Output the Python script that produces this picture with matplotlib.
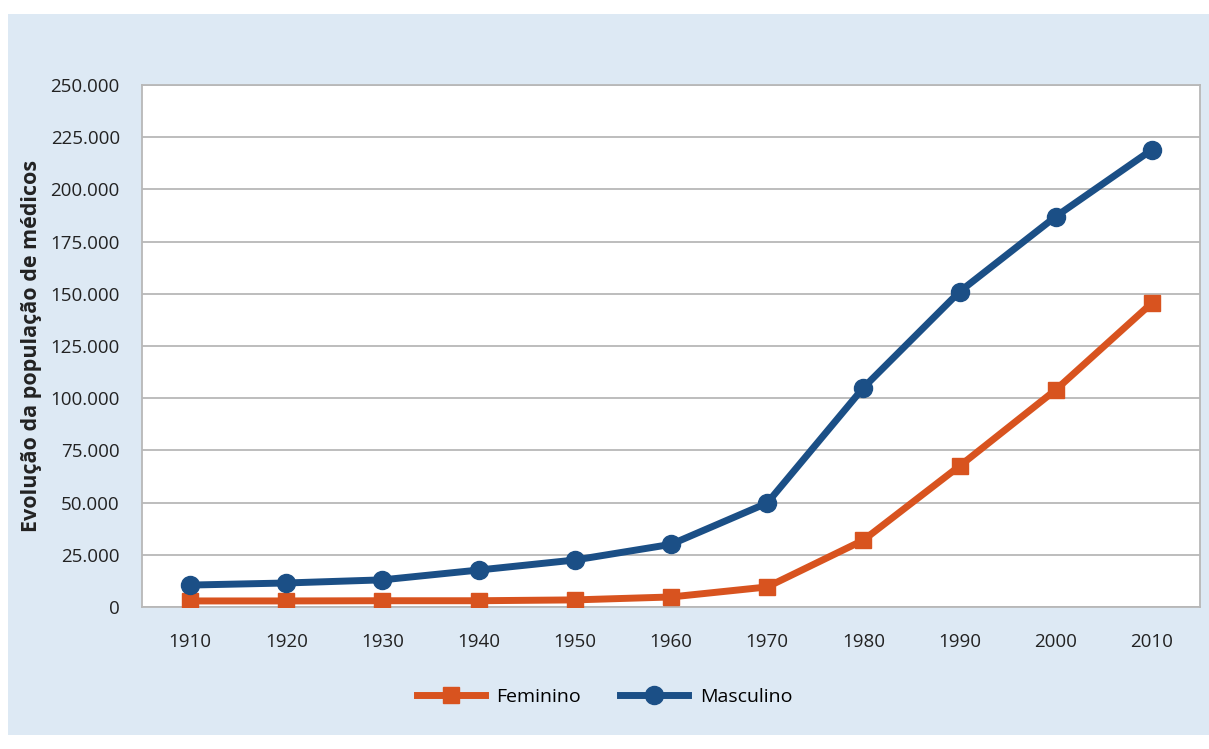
from matplotlib import pyplot as plt
from matplotlib.patches import Rectangle
from matplotlib.ticker import FuncFormatter

plt.rcParams['font.family'] = ['Open Sans', 'DejaVu Sans']

anos = [1910, 1920, 1930, 1940, 1950, 1960, 1970, 1980, 1990, 2000, 2010]
feminino = [2900, 2900, 3000, 3000, 3400, 4800, 9600, 32000, 67500, 104000, 145600]
masculino = [10500, 11500, 13000, 17700, 22500, 30000, 49800, 105000, 151000, 187000, 219000]

azul = '#1b4f86'
laranja = '#d8531f'

fig = plt.figure(figsize=(12.09, 7.49), dpi=100, facecolor='white')
# painel azul claro atras do grafico
fig.patches.append(Rectangle((8/1209, 14/749), 1201/1209, 721/749,
                             transform=fig.transFigure, facecolor='#dde9f4',
                             edgecolor='none', zorder=-10))

ax = fig.add_axes([142/1209, 142/749, 1058/1209, 522/749])
ax.set_facecolor('white')

x = range(len(anos))
ax.plot(x, feminino, color=laranja, lw=5, marker='s', ms=12, label='Feminino', zorder=3)
ax.plot(x, masculino, color=azul, lw=5, marker='o', ms=13, label='Masculino', zorder=3)

ax.set_xlim(-0.5, len(anos) - 0.5)
ax.set_ylim(0, 250000)
ax.set_yticks(range(0, 250001, 25000))
ax.yaxis.set_major_formatter(FuncFormatter(lambda v, p: '0' if v == 0 else f'{int(v):,}'.replace(',', '.')))
ax.set_xticks(list(x))
ax.set_xticklabels(anos)
ax.tick_params(length=0, labelsize=13.5, colors='#222222')
ax.tick_params(axis='x', pad=19)
ax.tick_params(axis='y', pad=16)
ax.grid(axis='y', color='#b8b8b8', lw=1.3)
ax.set_axisbelow(True)
for s in ax.spines.values():
    s.set_color('#b8b8b8')
    s.set_linewidth(1.3)

ax.set_ylabel('Evolução da população de médicos', fontsize=15.5, fontweight='bold',
              color='#222222', labelpad=6)

fig.legend(loc='center', bbox_to_anchor=(0.5, 52/749), ncol=2, frameon=False,
           fontsize=14, handlelength=3.5, columnspacing=2.0, handletextpad=0.6)

plt.savefig('out.png', dpi=100, facecolor='white')
